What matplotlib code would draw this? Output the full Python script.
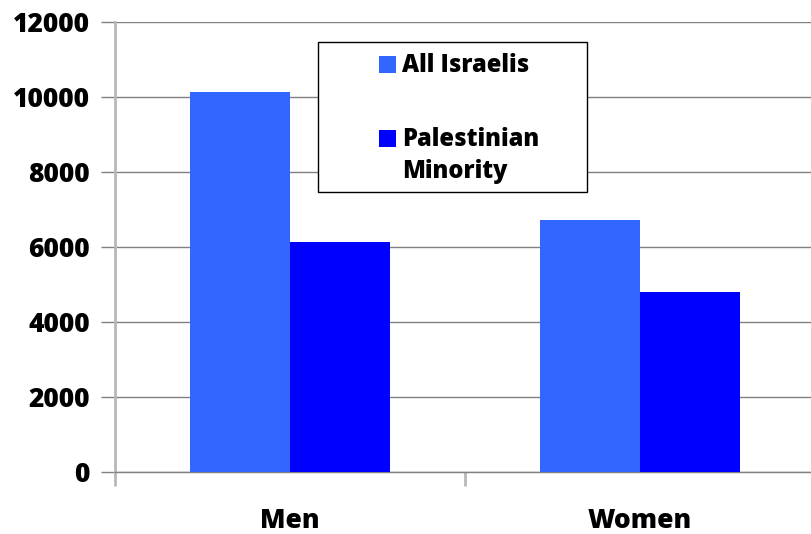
import matplotlib.pyplot as plt
import matplotlib.patches as mpatches
import numpy as np

plt.rcParams["font.family"] = ["Open Sans", "DejaVu Sans"]
plt.rcParams["font.weight"] = 800

groups = ["Men", "Women"]
series = ["All Israelis", "Palestinian\nMinority"]
all_israelis = [10140, 6730]
palestinian_minority = [6140, 4800]
colors = ["#3366FF", "#0000FF"]
yticks = [0, 2000, 4000, 6000, 8000, 10000, 12000]

W, H = 812, 534
fig = plt.figure(figsize=(W / 100, H / 100), dpi=100)
ax = fig.add_axes([115 / W, 62 / H, 700 / W, 450 / H])

x = np.arange(len(groups))
w = 100 / 350
ax.bar(x - w / 2, all_israelis, w, color=colors[0], zorder=3)
ax.bar(x + w / 2, palestinian_minority, w, color=colors[1], zorder=3)

ax.set_xlim(-0.5, 1.5)
ax.set_ylim(0, 12000)
ax.set_yticks(yticks)
ax.set_yticklabels([str(v) for v in yticks])
ax.yaxis.grid(True, color="#808080", lw=1, zorder=0)
ax.tick_params(axis="y", length=10, width=1, color="#808080", pad=8, labelsize=19)

# boundary ticks (unlabelled) and centred group labels
ax.set_xticks([-0.5, 0.5, 1.5])
ax.set_xticklabels([])
ax.set_xticks(x, minor=True)
ax.set_xticklabels(groups, minor=True)
ax.tick_params(axis="x", which="major", length=10, width=2, color="#b8b8b8")
ax.tick_params(axis="x", which="minor", length=0, pad=26, labelsize=19)

for s in ["top", "right"]:
    ax.spines[s].set_visible(False)
ax.spines["bottom"].set_color("#808080")
ax.spines["bottom"].set_linewidth(1)
ax.spines["left"].set_color("#b8b8b8")
ax.spines["left"].set_linewidth(2)


def fx(px):
    return px / W


def fy(py):
    return 1 - py / H


# legend box
fig.patches.append(mpatches.Rectangle((fx(318), fy(192)), fx(269), 150 / H,
                                      transform=fig.transFigure, facecolor="white",
                                      edgecolor="black", lw=1, zorder=5))
rows = [(56, 71.7), (130, 145.7)]
for (top, base), label, c in zip(rows, series, colors):
    fig.patches.append(mpatches.Rectangle((fx(379), fy(top + 17)), fx(17), 17 / H,
                                          transform=fig.transFigure, facecolor=c,
                                          edgecolor="none", zorder=6))
    fig.text(fx(402), fy(base), label.split("\n")[0], fontsize=17,
             va="baseline", ha="left", zorder=6)
fig.text(fx(402), fy(177.7), series[1].split("\n")[1], fontsize=17,
         va="baseline", ha="left", zorder=6)

fig.savefig("out.png", dpi=100)
